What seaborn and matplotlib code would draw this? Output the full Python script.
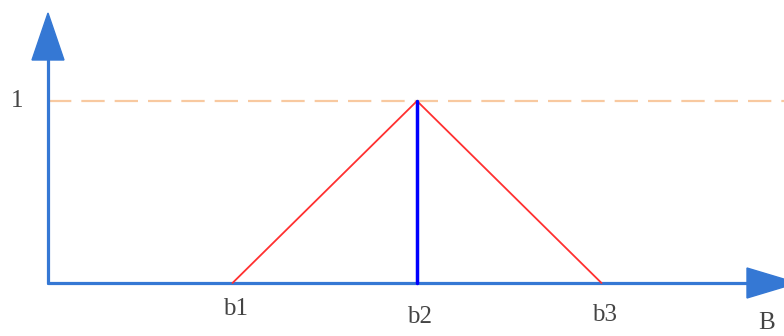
import numpy as np
import pandas as pd
import matplotlib
matplotlib.use("Agg")
import matplotlib.pyplot as plt
from matplotlib.patches import Polygon
import seaborn as sns

# 数据
b_labels = ["b1", "b2", "b3"]
b_values = [1, 2, 3]
membership = [0, 1, 0]
peak_label = "1"
axis_label = "B"

sns.set_theme(style="white")
plt.rcParams['font.family'] = ['Liberation Serif', 'DejaVu Serif']

axis_blue = "#3578d4"
text_gray = "#444444"

# 像素 -> 数据坐标
px_per_x = 184.5
px_per_y = 182.0
x0_px, y0_px = 48, 283


def to_data(px, py):
    return (px - x0_px) / px_per_x, (y0_px - py) / px_per_y


fig = plt.figure(figsize=(7.84, 3.36), dpi=100)
ax = fig.add_axes([0, 0, 1, 1])
xl, _ = to_data(0, 0)
xr, _ = to_data(784, 0)
_, yt = to_data(0, 0)
_, yb = to_data(0, 336)
ax.set_xlim(xl, xr)
ax.set_ylim(yb, yt)
ax.axis("off")

df = pd.DataFrame({"b": b_values, "mu": membership})

# 虚线 y=1
ax.plot([0, xr], [1, 1], color="#f8c9a0", lw=1.6, dashes=(10.5, 4.5), zorder=1)

# 三角形隶属函数
sns.lineplot(data=df, x="b", y="mu", color="#ff3030", lw=1.3, ax=ax, zorder=3)

# b2 处竖线
peak = b_values[int(np.argmax(membership))]
ax.plot([peak, peak], [0, max(membership)], color="#0000ff", lw=2.5, zorder=4)

# 坐标轴
_, ytip = to_data(0, 13)
_, ybase = to_data(0, 60)
ax.plot([0, 0], [0, ybase], color=axis_blue, lw=2.3, zorder=2)
ax.plot([0, xr], [0, 0], color=axis_blue, lw=2.3, zorder=2)
hw = 16 / px_per_x
ax.add_patch(Polygon([(-hw, ybase), (hw, ybase), (0, ytip)], closed=True,
                     color=axis_blue, zorder=5))
xbase, _ = to_data(747, 0)
xtip, _ = to_data(797, 0)
hh = 15 / px_per_y
ax.add_patch(Polygon([(xbase, -hh), (xbase, hh), (xtip, 0)], closed=True,
                     color=axis_blue, zorder=5))

# 文字
label_y = [309, 317, 315]
for lab, bv, py in zip(b_labels, b_values, label_y):
    _, yd = to_data(0, py)
    ax.text(bv + 3 / px_per_x, yd, lab, ha="center", va="center",
            fontsize=18, color=text_gray)
lx, ly = to_data(17, 101)
ax.text(lx, ly, peak_label, ha="center", va="center", fontsize=18, color=text_gray)
bx, by = to_data(767, 323)
ax.text(bx, by, axis_label, ha="center", va="center", fontsize=18, color=text_gray)

fig.savefig("out.png", dpi=100)
